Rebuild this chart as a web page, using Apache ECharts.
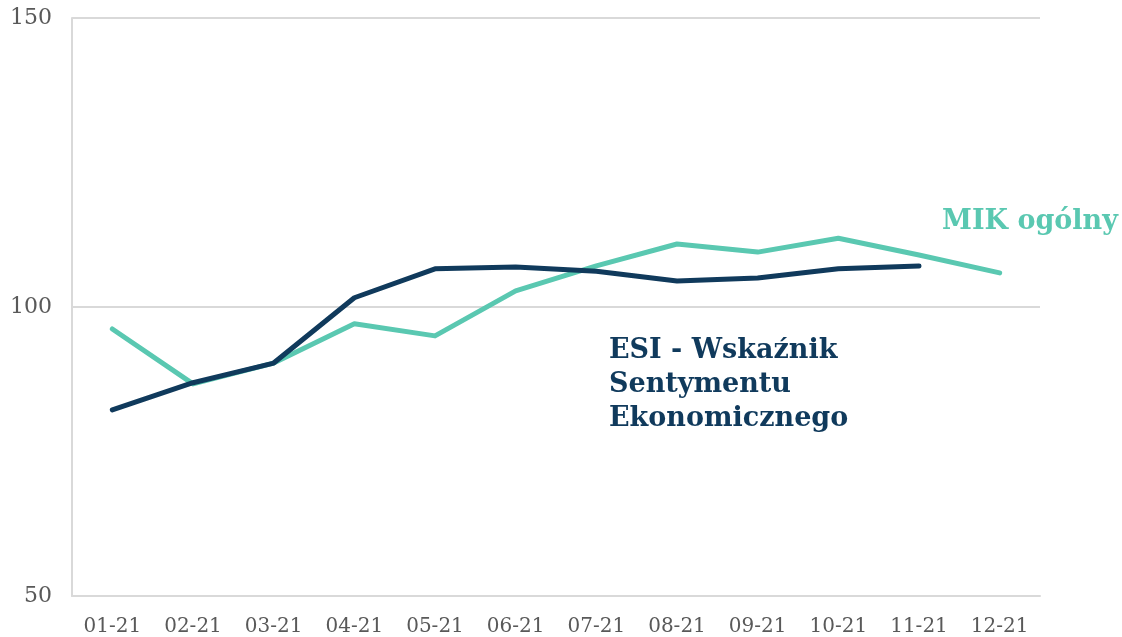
<!DOCTYPE html>
<html>
<head>
<meta charset="utf-8">
<style>
  html, body { margin: 0; padding: 0; background: #fff; }
  #main { width: 1122px; height: 637px; }
</style>
<script src="https://cdn.jsdelivr.net/npm/echarts@6/dist/echarts.min.js"></script>
</head>
<body>
<div id="main"></div>
<script>
/* MIK vs ESI, 2021 */
var months = ['01-21', '02-21', '03-21', '04-21', '05-21', '06-21', '07-21', '08-21', '09-21', '10-21', '11-21', '12-21'];
var mikValues = [96.2, 86.7, 90.3, 97.1, 95.0, 102.8, 107.1, 110.9, 109.5, 111.9, 109.0, 105.9];
var esiValues = [82.2, 86.9, 90.3, 101.6, 106.6, 106.9, 106.2, 104.5, 105.0, 106.6, 107.1, null];
var yTicks = [50, 100, 150];

(function () {
    var myChart = echarts.init(document.getElementById('main'));
    var font = 'DejaVu Serif';
    var gridColor = '#d9d9d9';

    var option = {
        animation: false,
        grid: { left: 72, right: 82, top: 18, bottom: 40, containLabel: false },
        xAxis: {
            type: 'category',
            data: months,
            boundaryGap: true,
            axisLine: { lineStyle: { color: gridColor, width: 2 } },
            axisTick: { show: false },
            axisLabel: { color: '#595959', fontFamily: font, fontSize: 20, margin: 21 }
        },
        yAxis: {
            type: 'value',
            min: yTicks[0],
            max: yTicks[yTicks.length - 1],
            interval: yTicks[1] - yTicks[0],
            axisLine: { show: true, lineStyle: { color: gridColor, width: 2 } },
            axisTick: { show: false },
            splitLine: { lineStyle: { color: gridColor, width: 2 } },
            axisLabel: { color: '#595959', fontFamily: font, fontSize: 22, margin: 20, padding: [4, 0, 0, 0] }
        },
        series: [
            {
                name: 'MIK ogólny',
                type: 'line',
                data: mikValues,
                symbol: 'none',
                lineStyle: { color: '#5ac8b1', width: 5, cap: 'round', join: 'round' },
                z: 2
            },
            {
                name: 'ESI - Wskaźnik Sentymentu Ekonomicznego',
                type: 'line',
                data: esiValues,
                symbol: 'none',
                lineStyle: { color: '#103a5c', width: 5, cap: 'round', join: 'round' },
                z: 3
            }
        ],
        graphic: [
            {
                type: 'text',
                left: 942, top: 208,
                style: {
                    text: 'MIK ogólny',
                    fill: '#5ac8b1',
                    fontFamily: font,
                    fontWeight: 'bold',
                    fontSize: 27
                }
            },
            {
                type: 'text',
                left: 609, top: 334,
                style: {
                    text: 'ESI - Wskaźnik\nSentymentu\nEkonomicznego',
                    fill: '#103a5c',
                    fontFamily: font,
                    fontWeight: 'bold',
                    fontSize: 27,
                    lineHeight: 34
                }
            }
        ]
    };
    myChart.setOption(option);
})();
</script>
</body>
</html>
